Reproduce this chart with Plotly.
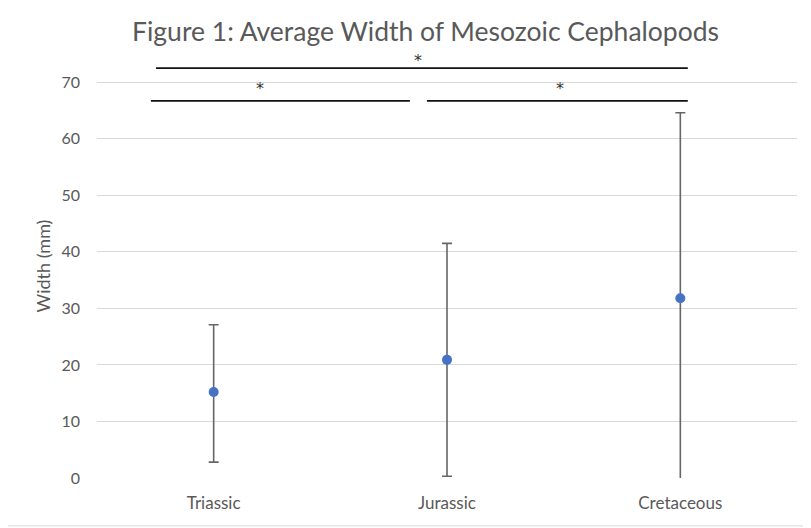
import plotly.graph_objects as go

categories = ["Triassic", "Jurassic", "Cretaceous"]
mean_width = [15.2, 20.9, 31.8]
err_plus = [11.9, 20.6, 32.8]
err_minus = [12.4, 20.6, 32.8]

y_ticks = [0, 10, 20, 30, 40, 50, 60, 70]

# significance brackets: (x start, x end, line level, label x, label level, label)
brackets = [
    (-0.247, 2.032, 72.5, 0.876, 74.6, "*"),
    (-0.269, 0.841, 66.7, 0.198, 69.6, "*"),
    (0.914, 2.032, 66.7, 1.484, 69.6, "*"),
]

FONT = "Lato"
GRAY = "#595959"

fig = go.Figure()
fig.add_trace(go.Scatter(
    x=categories, y=mean_width, mode="markers",
    marker=dict(color="#4472C4", size=10),
    error_y=dict(type="data", symmetric=False, array=err_plus, arrayminus=err_minus,
                 color="#666666", thickness=1.6, width=5),
    showlegend=False,
))

shapes = []
annotations = []
for x0, x1, yline, xlab, ylab, lab in brackets:
    shapes.append(dict(type="line", xref="x", yref="y", x0=x0, x1=x1, y0=yline, y1=yline,
                       line=dict(color="#111111", width=1.8)))
    annotations.append(dict(x=xlab, y=ylab, xref="x", yref="y", text=lab,
                            showarrow=False, font=dict(family="DejaVu Sans", size=16, color="#333333"),
                            yanchor="middle", yshift=-4))

# chart-area bottom border
shapes.append(dict(type="line", xref="paper", yref="paper", x0=-0.2, x1=1.1, y0=-0.113, y1=-0.113,
                   line=dict(color="#d9d9d9", width=1)))

fig.update_layout(
    width=803, height=520,
    margin=dict(l=89, r=14, t=46, b=50),
    paper_bgcolor="white", plot_bgcolor="white",
    title=dict(text="Figure 1: Average Width of Mesozoic Cephalopods", x=0.52, xanchor="center",
               y=0.954, yanchor="middle", font=dict(family=FONT, size=26.5, color=GRAY)),
    xaxis=dict(type="category", range=[-0.5, 2.5], showgrid=False, showline=False, zeroline=False,
               ticks="", tickfont=dict(family=FONT, size=17, color=GRAY), ticklabelstandoff=13),
    yaxis=dict(range=[0, 75], tickvals=y_ticks, showgrid=True, gridcolor="#d9d9d9", gridwidth=1,
               zeroline=False, showline=False, ticks="",
               tickfont=dict(family=FONT, size=16, color=GRAY), ticklabelstandoff=16,
               title=dict(text="Width (mm)", font=dict(family=FONT, size=18, color=GRAY), standoff=6)),
    shapes=shapes, annotations=annotations,
)

fig.write_html("out.html")
